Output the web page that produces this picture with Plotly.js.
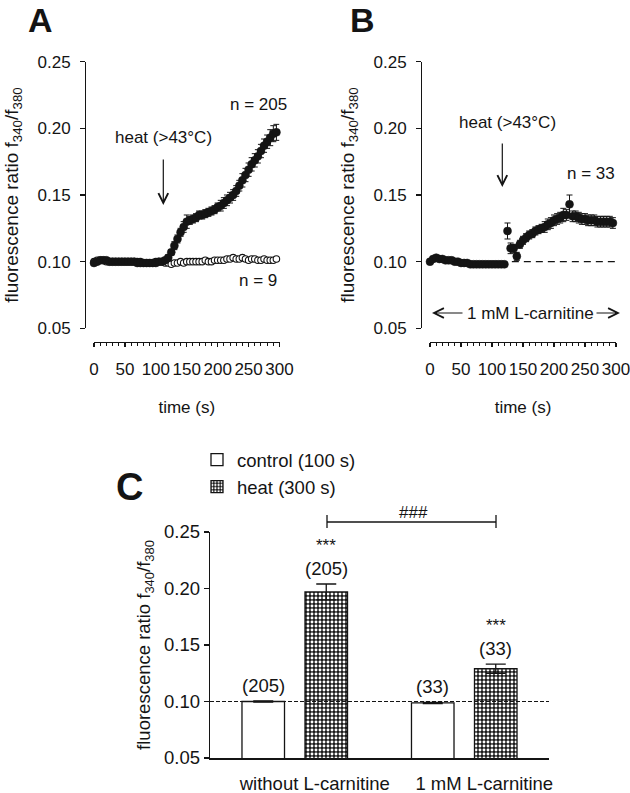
<!DOCTYPE html>
<html><head><meta charset="utf-8">
<script src="https://cdn.plot.ly/plotly-3.0.1.min.js"></script>
<style>html,body{margin:0;padding:0;background:#fff}#chart{width:630px;height:793px}</style>
</head><body><div id="chart"></div>
<script>
// ---------- data ----------
const timeA = [0,5,10,15,20,25,30,35,40,45,50,55,60,65,70,75,80,85,90,95,100,105,110,115,
  120,125,130,135,140,145,150,155,160,165,170,175,180,185,190,195,200,205,210,215,220,225,230,235,240,245,250,255,260,265,270,275,280,285,290,295];
const heatA = [0.099,0.100,0.101,0.101,0.101,0.100,0.100,0.100,0.100,0.100,0.100,0.100,0.100,0.100,0.099,0.099,0.099,0.099,0.099,0.099,0.099,0.100,0.100,0.101,
  0.103,0.107,0.112,0.117,0.122,0.126,0.130,0.131,0.132,0.133,0.135,0.135,0.136,0.137,0.138,0.139,0.141,0.142,0.144,0.146,0.148,0.150,0.153,0.157,0.161,0.165,0.169,0.173,0.176,0.179,0.183,0.187,0.190,0.193,0.196,0.197];
const heatErrA = [0.001,0.001,0.001,0.001,0.001,0.001,0.001,0.001,0.001,0.001,0.001,0.001,0.001,0.001,0.001,0.001,0.001,0.001,0.001,0.001,0.001,0.001,0.001,0.001,
  0.002,0.002,0.003,0.003,0.003,0.004,0.005,0.003,0.003,0.003,0.003,0.003,0.003,0.003,0.003,0.003,0.003,0.004,0.004,0.004,0.004,0.004,0.004,0.004,0.005,0.005,0.005,0.005,0.005,0.005,0.005,0.005,0.005,0.006,0.006,0.006];
const controlA = [0.100,0.101,0.101,0.101,0.100,0.100,0.100,0.100,0.100,0.100,0.100,0.100,0.100,0.100,0.100,0.100,0.099,0.099,0.099,0.099,0.100,0.100,0.100,0.099,
  0.099,0.098,0.099,0.099,0.100,0.099,0.100,0.100,0.100,0.100,0.100,0.100,0.101,0.100,0.100,0.101,0.101,0.101,0.101,0.102,0.102,0.103,0.102,0.102,0.103,0.102,0.101,0.102,0.102,0.101,0.101,0.102,0.101,0.101,0.101,0.102];

const timeB = [0,5,10,15,20,25,30,35,40,45,50,55,60,65,70,75,80,85,90,95,100,105,110,115,120,
  125,130,135,140,145,150,155,160,165,170,175,180,185,190,195,200,205,210,215,220,225,230,235,240,245,250,255,260,265,270,275,280,285,290,295];
const carnB = [0.100,0.102,0.103,0.102,0.102,0.101,0.101,0.101,0.100,0.100,0.099,0.099,0.099,0.098,0.098,0.098,0.098,0.098,0.098,0.098,0.098,0.098,0.098,0.098,0.098,
  0.123,0.110,0.110,0.104,0.113,0.116,0.118,0.120,0.121,0.123,0.124,0.125,0.126,0.128,0.129,0.131,0.132,0.133,0.135,0.135,0.143,0.134,0.134,0.133,0.132,0.132,0.131,0.131,0.131,0.130,0.130,0.130,0.130,0.130,0.129];
const carnErrB = [0.001,0.001,0.001,0.001,0.001,0.001,0.001,0.001,0.001,0.001,0.001,0.001,0.001,0.001,0.001,0.001,0.001,0.001,0.001,0.001,0.001,0.001,0.001,0.001,0.001,
  0.006,0.004,0.003,0.003,0.003,0.003,0.003,0.003,0.003,0.003,0.003,0.003,0.004,0.004,0.004,0.004,0.004,0.004,0.005,0.004,0.007,0.004,0.004,0.004,0.004,0.004,0.004,0.004,0.004,0.004,0.004,0.004,0.004,0.004,0.004];
const baselineTimeB = [132, 300];
const baselineValB = [0.100, 0.100];

const groupsC = ['without L-carnitine', '1 mM L-carnitine'];
const controlC = [0.100, 0.0987];
const controlErrC = [0.0005, 0.0006];
const heatC = [0.197, 0.129];
const heatErrC = [0.007, 0.004];
const controlNC = ['(205)', '(33)'];
const heatNC = ['(205)', '(33)'];
const heatSigC = ['***', '***'];
const refLevelC = 0.10;

const yTicks = [0.05, 0.10, 0.15, 0.20, 0.25];
const yTickText = ['0.05', '0.10', '0.15', '0.20', '0.25'];
const xTicks = [0, 50, 100, 150, 200, 250, 300];

// ---------- layout helpers ----------
const W = 630, H = 793;
const px = v => v / W;
const py = v => 1 - v / H;
const INK = '#141414';
const FONT = 'Liberation Sans, Arial, sans-serif';
const yTitle = 'fluorescence ratio f<sub>340</sub>/f<sub>380</sub>';

function yAxisTS(pos) {
  return {
    domain: [py(328.3), py(61.7)], anchor: 'free', position: pos,
    range: [0.05, 0.25], tickvals: yTicks, ticktext: yTickText,
    ticks: 'outside', ticklen: 5, tickwidth: 1.3, tickcolor: INK,
    showline: true, linecolor: INK, linewidth: 1.3,
    showgrid: false, zeroline: false, tickfont: {size: 17, color: INK},
    ticklabelstandoff: 6, ticklabeloverflow: 'allow',
    title: {text: yTitle, font: {size: 19, color: INK}, standoff: 12}
  };
}
function xAxisTS(dom) {
  return {
    domain: dom, anchor: 'free', position: py(341.7),
    range: [0, 300], tickvals: xTicks,
    ticks: 'outside', ticklen: 4, tickwidth: 1.3, tickcolor: INK,
    minor: {tick0: 0, dtick: 10, ticks: 'outside', ticklen: 2.5, tickwidth: 1, tickcolor: INK},
    showline: true, linecolor: INK, linewidth: 1.3,
    showgrid: false, zeroline: false, tickfont: {size: 17, color: INK},
    ticklabelstandoff: 8, ticklabeloverflow: 'allow',
    title: {text: 'time (s)', font: {size: 17, color: INK}, standoff: 22}
  };
}

const traces = [
  // Panel C bars first (legend order)
  {type: 'bar', x: groupsC, y: controlC, name: 'control (100 s)', xaxis: 'x3', yaxis: 'y3',
   marker: {color: '#ffffff', line: {color: INK, width: 1.3}},
   error_y: {type: 'data', array: controlErrC, color: INK, thickness: 1.3, width: 10}},
  {type: 'bar', x: groupsC, y: heatC, name: 'heat (300 s)', xaxis: 'x3', yaxis: 'y3',
   marker: {color: '#1a1a1a', line: {color: INK, width: 1.3},
            pattern: {shape: '.', fgcolor: '#ffffff', bgcolor: '#1a1a1a', size: 4, solidity: 0.42}},
   error_y: {type: 'data', array: heatErrC, color: INK, thickness: 1.3, width: 10}},
  // Panel A
  {type: 'scatter', mode: 'markers', x: timeA, y: controlA, xaxis: 'x', yaxis: 'y', showlegend: false,
   cliponaxis: false,
   marker: {symbol: 'circle', size: 6.5, color: '#ffffff', line: {color: INK, width: 1.1}}},
  {type: 'scatter', mode: 'markers', x: timeA, y: heatA, xaxis: 'x', yaxis: 'y', showlegend: false,
   cliponaxis: false,
   error_y: {type: 'data', array: heatErrA, color: INK, thickness: 1, width: 3},
   marker: {symbol: 'circle', size: 8, color: INK, line: {color: INK, width: 0.5}}},
  // Panel B
  {type: 'scatter', mode: 'lines', x: baselineTimeB, y: baselineValB, xaxis: 'x2', yaxis: 'y2', showlegend: false,
   cliponaxis: false, line: {color: INK, width: 1.3, dash: '7px,5px'}},
  {type: 'scatter', mode: 'markers', x: timeB, y: carnB, xaxis: 'x2', yaxis: 'y2', showlegend: false,
   cliponaxis: false,
   error_y: {type: 'data', array: carnErrB, color: INK, thickness: 1, width: 3},
   marker: {symbol: 'circle', size: 8, color: INK, line: {color: INK, width: 0.5}}}
];

const txt = (x, y, text, size, extra) => Object.assign({
  xref: 'paper', yref: 'paper', x: px(x), y: py(y), text: text, showarrow: false,
  xanchor: 'center', yanchor: 'middle', font: {size: size, color: INK}
}, extra || {});
const arrow = (x, y, ax, ay) => ({
  xref: 'paper', yref: 'paper', x: px(x), y: py(y), ax: ax, ay: ay, text: '',
  showarrow: true, arrowhead: 5, arrowsize: 1.6, arrowwidth: 1.2, arrowcolor: INK
});

const annotations = [
  txt(40, 20, '<b>A</b>', 34),
  txt(363, 20, '<b>B</b>', 34),
  txt(129, 487, '<b>C</b>', 38),
  // panel A
  txt(163, 137, 'heat (>43°C)', 17),
  arrow(163.3, 205, 0, -47),
  txt(258, 104, 'n = 205', 17),
  txt(258, 280, 'n = 9', 17),
  // panel B
  txt(507, 123, 'heat (>43°C)', 17),
  arrow(502.3, 187, 0, -45),
  txt(591, 174, 'n = 33', 17),
  txt(530, 313, '1 mM L-carnitine', 17),
  arrow(432, 313, 32, 0),
  arrow(620, 313, -25, 0),
  // panel C
  txt(413, 512, '###', 17)
];
groupsC.forEach((g, i) => {
  annotations.push({xref: 'x3', yref: 'y3', x: g, y: controlC[i] + controlErrC[i], xshift: -31.5, yshift: 3,
    text: controlNC[i], showarrow: false, xanchor: 'center', yanchor: 'bottom', font: {size: 18.5, color: INK}});
  annotations.push({xref: 'x3', yref: 'y3', x: g, y: heatC[i] + heatErrC[i], xshift: 31.5, yshift: 3,
    text: heatNC[i], showarrow: false, xanchor: 'center', yanchor: 'bottom', font: {size: 18.5, color: INK}});
  annotations.push({xref: 'x3', yref: 'y3', x: g, y: heatC[i] + heatErrC[i], xshift: 31.5, yshift: 27,
    text: heatSigC[i], showarrow: false, xanchor: 'center', yanchor: 'bottom', font: {size: 17, color: INK}});
});

const shapes = [
  {type: 'line', xref: 'x3 domain', yref: 'y3', x0: 0, x1: 1, y0: refLevelC, y1: refLevelC,
   line: {color: INK, width: 1, dash: '4px,2px'}, layer: 'above'},
  {type: 'line', xref: 'paper', yref: 'paper', x0: px(327), x1: px(496), y0: py(522), y1: py(522), line: {color: INK, width: 1.3}},
  {type: 'line', xref: 'paper', yref: 'paper', x0: px(327), x1: px(327), y0: py(515), y1: py(528), line: {color: INK, width: 1.3}},
  {type: 'line', xref: 'paper', yref: 'paper', x0: px(496), x1: px(496), y0: py(515), y1: py(528), line: {color: INK, width: 1.3}}
];

const layout = {
  width: W, height: H, margin: {l: 0, r: 0, t: 0, b: 0},
  paper_bgcolor: '#ffffff', plot_bgcolor: 'rgba(0,0,0,0)',
  font: {family: FONT, color: INK},
  showlegend: true,
  legend: {x: px(197), y: py(441), xanchor: 'left', yanchor: 'top', bgcolor: 'rgba(0,0,0,0)',
           font: {size: 18.5, color: INK}, tracegroupgap: 0, traceorder: 'normal'},
  barmode: 'group', bargap: 0.2566, bargroupgap: 0.325,
  xaxis: xAxisTS([px(94), px(279.5)]),
  yaxis: yAxisTS(px(85)),
  xaxis2: xAxisTS([px(430), px(616)]),
  yaxis2: yAxisTS(px(421)),
  xaxis3: {domain: [px(210), px(549)], anchor: 'y3', type: 'category',
           showline: true, linecolor: INK, linewidth: 1.6, ticks: '', showgrid: false,
           tickfont: {size: 18.5, color: INK}, ticklabelshift: 20, ticklabelstandoff: 8,
           ticklabeloverflow: 'allow'},
  yaxis3: {domain: [py(758), py(532)], anchor: 'x3', range: [0.05, 0.25],
           tickvals: yTicks, ticktext: yTickText, ticks: 'outside', ticklen: 5, tickwidth: 1.3, tickcolor: INK,
           showline: true, linecolor: INK, linewidth: 1.3, showgrid: false, zeroline: false,
           tickfont: {size: 18.5, color: INK},
           title: {text: yTitle, font: {size: 18.5, color: INK}, standoff: 8}},
  annotations: annotations,
  shapes: shapes
};

Plotly.newPlot('chart', traces, layout, {displayModeBar: false, staticPlot: true});
</script>
</body></html>
